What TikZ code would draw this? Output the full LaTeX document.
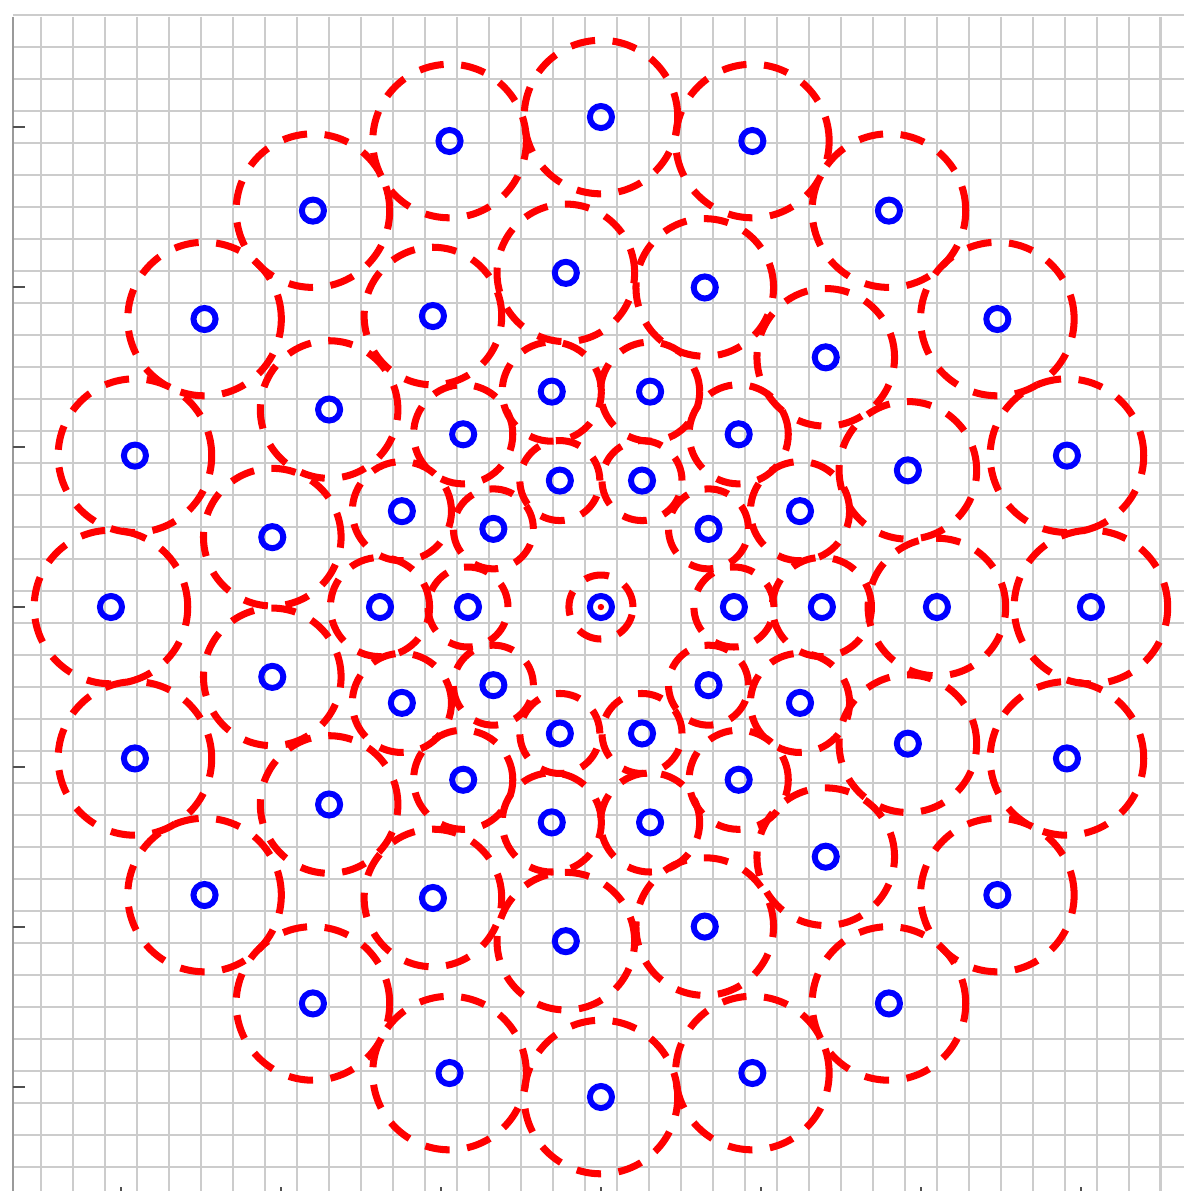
\documentclass[tikz,border=0pt]{standalone}
\usepackage{tikz}
\usetikzlibrary{calc}
\usepackage{xcolor}
\definecolor{nodoazul}{HTML}{0000FF}
\definecolor{radiorojo}{HTML}{FF0000}
\definecolor{rejilla}{HTML}{CCCCCC}
\definecolor{ejegris}{HTML}{9A9A9A}
\definecolor{marcagris}{HTML}{505050}

\begin{document}
\begin{tikzpicture}[x=1.6cm,y=1.6cm,
    sensado/.style={radiorojo,line width=2pt,dash pattern=on 7pt off 5pt},
    nodo/.style={nodoazul,line width=1.7pt}]
        \useasboundingbox (-3.756,-3.65) rectangle (3.644,3.794);
        % Rejilla
        \foreach \i in {0,...,35}{
          \draw[rejilla,line width=0.8pt]({-3.5+0.2*\i},3.69)--({-3.5+0.2*\i},-3.7);}
        \foreach \i in {0,...,36}{
          \draw[rejilla,line width=0.8pt](-3.675,{3.7-0.2*\i})--(3.7,{3.7-0.2*\i});}
        % Ejes
        \draw[ejegris,line width=0.8pt](-3.675,3.69)--(-3.675,-3.7);
        \foreach \t in {-3,...,3}{
          \draw[marcagris,line width=0.8pt](-3.675,\t)--+(0.075,0);
          \draw[marcagris,line width=0.8pt](\t,-3.7)--+(0,0.075);}
        % Radios de sensado
        \draw[sensado](0,0)circle(0.2);
        \foreach \n/\r/\s in {10/0.831/0.25, 14/1.381/0.31, 15/2.1/0.43, 20/3.0625/0.48}{
          \foreach \i in {1,...,\n}{
            \draw[sensado]({360/\n*\i}:\r)circle(\s);}}
        % Nodos
        \draw[nodo](0,0)circle(0.069);
        \foreach \n/\r in {10/0.831, 14/1.381, 15/2.1, 20/3.0625}{
          \foreach \i in {1,...,\n}{
            \draw[nodo]({360/\n*\i}:\r)circle(0.069);}}
        \fill[radiorojo](0,0)circle(0.02);
      \end{tikzpicture}
\end{document}
